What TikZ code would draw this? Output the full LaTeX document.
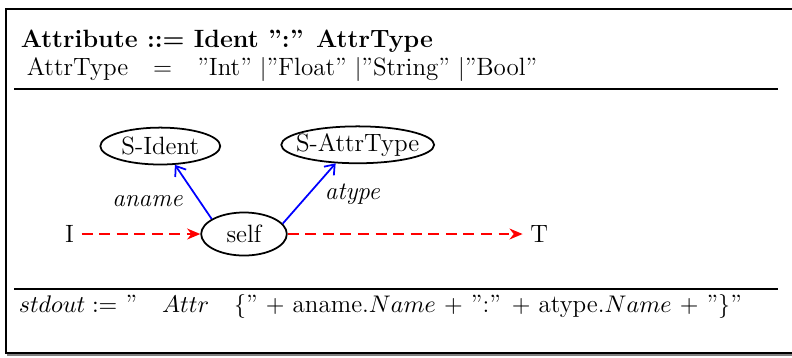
\documentclass[tikz,border=0pt]{standalone}
\usetikzlibrary{positioning,arrows.meta,shapes.geometric}

\begin{document}
\begin{tikzpicture}[x=0.016cm, y=-0.016cm,
    every node/.style={font=\fontsize{11.4}{13.5}\selectfont},
    state/.style={ellipse, draw, thick, inner sep=0pt, minimum height=16.8pt},
    flow/.style={red, thick, dash pattern=on 5pt off 3pt, -{Stealth[length=6pt,width=5pt]}},
    attr/.style={blue, thick, -{Straight Barb[length=4pt,width=6pt]}},
    lbl/.style={black, font=\fontsize{11.4}{13.5}\selectfont\itshape}]
    % Frame
    \useasboundingbox (0,0) rectangle (792,357);
    \draw[gray, line width=1.2pt] (8,11) rectangle (802,355);
    \draw[line width=1.2pt, fill=white] (6,9) rectangle (800,353);
    \draw[thick] (14,89) -- (778,89);
    \draw[thick] (14,289) -- (778,289);

    % Grammar
    \node[anchor=base west] (rule) at (13,47) {\bfseries Attribute ::= Ident '':'' AttrType};
    \node[anchor=base west] (types) at (19,75) {AttrType\quad=\quad ''Int'' $|$''Float'' $|$''String'' $|$''Bool''};

    % Nodes
    \node[state, minimum width=39pt, minimum height=19.6pt] (self) at (244,234) {self};
    \node[state, minimum width=54.6pt, inner xsep=-3pt, above=0.74cm of self, xshift=-1.34cm] (sident) {S-Ident};
    \node[state, minimum width=69.6pt, inner xsep=-7pt, above=0.76cm of self, xshift=1.82cm] (sattr) {S-AttrType};
    \node[left=1.9cm of self] (I) {I};
    \node[right=3.76cm of self] (T) {T};

    % Edges
    \draw[flow] (I) -- (self);
    \draw[flow] (self) -- (T);
    \draw[attr] (self.155) -- node[lbl, pos=0.45, left, xshift=-2pt, yshift=-3pt] {aname} (sident.-52);
    \draw[attr] (self.15) -- node[lbl, pos=0.6, right, xshift=1pt, yshift=-3pt] {atype} (sattr.-140);

    % Output
    \node[anchor=base west] (out) at (11,312) {$stdout :=$ ''\quad $Attr$\quad $\{$'' $+$ aname.$Name$ $+$ '':'' $+$ atype.$Name$ $+$ ''$\}$''};
\end{tikzpicture}
\end{document}
